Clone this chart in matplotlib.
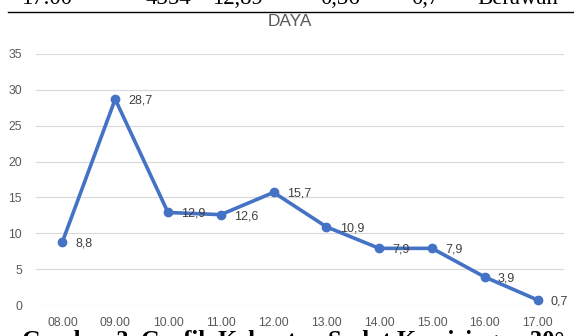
import numpy as np
import matplotlib
matplotlib.use('Agg')
import matplotlib.pyplot as plt
from matplotlib.lines import Line2D

# data
hours = ['08.00', '09.00', '10.00', '11.00', '12.00',
         '13.00', '14.00', '15.00', '16.00', '17.00']
daya = [8.8, 28.7, 12.9, 12.6, 15.7, 10.9, 7.9, 7.9, 3.9, 0.7]
daya_labels = ['8,8', '28,7', '12,9', '12,6', '15,7', '10,9', '7,9', '7,9', '3,9', '0,7']
yticks = [0, 5, 10, 15, 20, 25, 30, 35]

# table row above the chart (cut off in the page) and caption below
table_row = ['17.00', '4354', '12,89', '0,36', '0,7', 'Berawan']
table_x = [21, 145, 212, 320, 411, 477]
caption = 'Gambar 3. Grafik Kekuatan Sudut Kemiringan 30°'

W, H = 574, 336
chart_font = ['Liberation Sans', 'DejaVu Sans']
serif_font = ['Liberation Serif', 'DejaVu Serif']

fig = plt.figure(figsize=(W / 100, H / 100), dpi=100)
ax = fig.add_axes([36 / W, 1 - 305 / H, 528 / W, 251 / H])

x = np.arange(len(hours))
ax.plot(x, daya, color='#4472C4', lw=2.6, marker='o', ms=6, zorder=3)
for xi, yi, lab in zip(x, daya, daya_labels):
    ax.annotate(lab, (xi, yi), xytext=(9.5, -1), textcoords='offset points',
                ha='left', va='center', fontsize=9, color='#404040',
                family=chart_font, zorder=4)

ax.set_xlim(-0.5, len(hours) - 0.5)
ax.set_ylim(0, 35)
ax.set_xticks(x)
ax.set_xticklabels(hours)
ax.set_yticks(yticks)
ax.yaxis.grid(True, color='#D9D9D9', lw=0.8)
ax.set_axisbelow(True)
for s in ax.spines.values():
    s.set_visible(False)
ax.tick_params(axis='both', length=0, labelcolor='#595959', labelsize=8.8)
ax.tick_params(axis='y', pad=10)
ax.tick_params(axis='x', pad=8.5)
for t in ax.get_xticklabels() + ax.get_yticklabels():
    t.set_family(chart_font)

fig.text(289.5 / W, 1 - 21 / H, 'DAYA', ha='center', va='center',
         fontsize=12.4, color='#595959', family=chart_font)

# table bottom rule and text
fig.add_artist(Line2D([8 / W, 1], [1 - 12.3 / H] * 2, color='black', lw=1.0))
for tx, s in zip(table_x, table_row):
    fig.text(tx / W, 1 - 3.5 / H, s, ha='left', va='baseline',
             fontsize=16.4, family=serif_font)

fig.text(22 / W, -12 / H, caption, ha='left', va='baseline',
         fontsize=17.7, fontweight='bold', family=serif_font)

fig.savefig('out.png', dpi=100)
